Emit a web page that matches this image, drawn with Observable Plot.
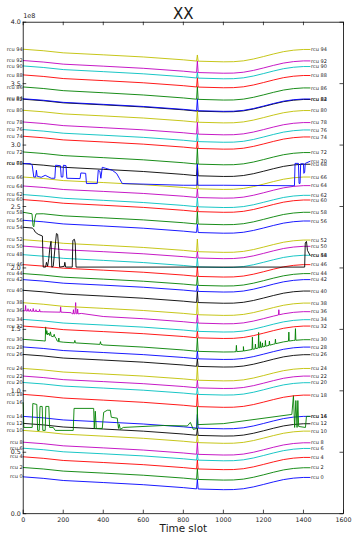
<!DOCTYPE html>
<html><head><meta charset="utf-8">
<script src="https://cdn.jsdelivr.net/npm/d3@7"></script>
<script src="https://cdn.jsdelivr.net/npm/@observablehq/plot@0.6"></script>
<style>body{margin:0;background:#fff} svg text{fill:#1a1a1a}</style>
</head><body><div id="chart"></div>
<script>
// ---- data (values in units of 1e8) ----
const rcuIds = [0,2,4,6,8,10,12,14,16,18,20,22,24,26,28,30,32,34,36,38,40,42,44,46,48,50,52,54,56,58,60,62,64,66,68,70,72,74,76,78,80,82,84,86,88,90,92,94];
const startValues = [0.300,0.376,0.463,0.533,0.582,0.678,0.735,0.792,0.903,0.971,1.068,1.120,1.182,1.296,1.357,1.419,1.527,1.581,1.652,1.717,1.818,1.905,1.954,2.027,2.108,2.178,2.230,2.331,2.388,2.453,2.556,2.597,2.667,2.740,2.849,2.849,2.944,3.072,3.126,3.188,3.283,3.373,3.377,3.473,3.571,3.644,3.688,3.780];
const endValues = [0.295,0.374,0.458,0.531,0.577,0.672,0.732,0.792,0.792,0.965,1.066,1.120,1.182,1.294,1.356,1.416,1.527,1.579,1.644,1.714,1.812,1.905,1.954,2.027,2.103,2.176,2.227,2.103,2.382,2.453,2.553,2.591,2.670,2.740,2.844,2.868,2.939,3.066,3.123,3.183,3.281,3.371,3.375,3.465,3.566,3.639,3.685,3.778];
// common slow drift seen on every regular trace (depth below the start/end level)
const driftTimes = [0,100,200,400,600,800,866,874,1000,1050,1100,1150,1200,1250,1300,1350,1400,1433];
const driftDepth = [0,0.012,0.029,0.045,0.062,0.085,0.095,0.096,0.101,0.100,0.093,0.078,0.058,0.037,0.018,0.006,0,0];
const glitchTime = 870;

// irregular traces
const rcu70Points = [[0,2.849],[36,2.849],[45,2.836],[53,2.740],[62,2.740],[66,2.795],[70,2.746],[90,2.738],[110,2.754],[140,2.730],[158,2.730],[162,2.836],[186,2.832],[190,2.740],[198,2.740],[201,2.836],[214,2.832],[218,2.730],[284,2.727],[288,2.773],[312,2.770],[316,2.687],[370,2.687],[375,2.795],[383,2.787],[388,2.730],[395,2.819],[412,2.811],[445,2.795],[467,2.768],[480,2.730],[495,2.687],[800,2.673],[868,2.673],[870,2.846],[872,2.673],[1000,2.673],[1355,2.669],[1358,2.851],[1375,2.851],[1378,2.688],[1383,2.688],[1386,2.848],[1400,2.848],[1402,2.770],[1406,2.779],[1409,2.851],[1433,2.868]];
const rcu54Points = [[0,2.331],[45,2.325],[53,2.314],[60,2.292],[75,2.274],[96,2.260],[100,2.007],[112,2.007],[116,2.046],[122,2.014],[128,2.078],[133,2.160],[139,2.217],[143,2.007],[150,2.013],[160,2.184],[166,2.280],[172,2.274],[178,2.143],[182,2.007],[205,2.013],[208,2.046],[212,2.007],[245,2.007],[248,2.225],[256,2.233],[260,2.200],[264,2.007],[1406,2.007],[1409,2.203],[1415,2.216],[1420,2.143],[1433,2.103]];
const rcu16Points = [[0,0.903],[3,0.702],[45,0.702],[48,0.897],[68,0.889],[72,0.678],[80,0.678],[84,0.873],[95,0.873],[98,0.678],[110,0.678],[113,0.873],[128,0.873],[132,0.702],[150,0.702],[160,0.678],[250,0.678],[254,0.857],[352,0.857],[355,0.694],[360,0.834],[365,0.694],[395,0.694],[402,0.825],[420,0.842],[435,0.842],[440,0.785],[470,0.777],[476,0.694],[480,0.727],[485,0.686],[500,0.702],[700,0.718],[820,0.714],[835,0.743],[850,0.686],[868,0.694],[870,0.873],[872,0.725],[1000,0.733],[1342,0.808],[1350,0.961],[1356,0.702],[1362,0.921],[1368,0.702],[1372,0.921],[1376,0.710],[1410,0.702],[1415,0.792],[1433,0.792]];
const rcu58DipPoints = [[44,2.441],[49,2.345],[53,2.335],[58,2.400],[64,2.440]];
const rcu36LeftPoints = [[0,1.652],[10,1.651],[12,1.695],[14,1.650],[22,1.650],[24,1.668],[26,1.649],[34,1.649],[36,1.664],[38,1.648],[48,1.648],[50,1.670],[52,1.647],[62,1.647],[64,1.660],[66,1.646],[80,1.645],[82,1.662],[84,1.644],[100,1.643],[185,1.640],[187,1.684],[189,1.640],[240,1.636],[244,1.627],[249,1.628],[251,1.660],[253,1.627],[259,1.627],[262,1.718],[265,1.627],[270,1.628],[272,1.665],[274,1.626],[290,1.630]];
const rcu30LeftPoints = [[0,1.419],[100,1.407],[110,1.405],[112,1.520],[115,1.460],[118,1.490],[122,1.455],[128,1.470],[132,1.450],[136,1.480],[140,1.445],[150,1.440],[155,1.460],[158,1.440],[165,1.425],[170,1.405],[176,1.400],[178,1.430],[180,1.400],[200,1.396],[255,1.390],[258,1.410],[261,1.390],[383,1.378],[386,1.400],[389,1.378]];
const rcu30RightSpikes = [[1065,1.370],[1100,1.360],[1145,1.437],[1160,1.380],[1176,1.475],[1185,1.400],[1195,1.390],[1210,1.410],[1230,1.405],[1260,1.420],[1327,1.478],[1360,1.506]];
const rcu36RightSpikes = [[1277,1.660]];

const xTickValues = [0,200,400,600,800,1000,1200,1400,1600];
const yTickValues = [0,0.5,1.0,1.5,2.0,2.5,3.0,3.5,4.0];
const lineColors = ["#0000ff","#008000","#ff0000","#00bfbf","#bf00bf","#bfbf00","#000000"];

// ---- build series ----
const lastT = driftTimes[driftTimes.length-1];
function driftAt(t){
  for (let k=1;k<driftTimes.length;k++){
    if (t<=driftTimes[k]){const t0=driftTimes[k-1],t1=driftTimes[k];const f=(t-t0)/(t1-t0);return driftDepth[k-1]+(driftDepth[k]-driftDepth[k-1])*f;}
  }
  return driftDepth[driftDepth.length-1];
}
function base(i,t){return startValues[i]+(endValues[i]-startValues[i])*t/lastT-driftAt(t);}
const explicitSeries = {16: rcu16Points, 54: rcu54Points, 70: rcu70Points};
const wildSegments = {30: rcu30LeftPoints, 36: rcu36LeftPoints, 58: rcu58DipPoints};
const spikeLists = {30: rcu30RightSpikes, 36: rcu36RightSpikes};
function seriesFor(i){
  const id = rcuIds[i];
  if (explicitSeries[id]) return explicitSeries[id].map(([t,v])=>({t,v}));
  let pts = driftTimes.map(t=>[t, base(i,t)]);
  if (id !== 54){
    let top;
    if (i === rcuIds.length-1) top = base(i,glitchTime)+0.05;
    else { const j = id===68 ? i+2 : i+1; top = startValues[j]-driftAt(glitchTime); }
    pts.push([glitchTime, top]);
  }
  const seg = wildSegments[id];
  if (seg){const a=seg[0][0], b=seg[seg.length-1][0]; pts = pts.filter(([t])=>t<a||t>b).concat(seg);}
  const sp = spikeLists[id];
  if (sp) for (const [t,p] of sp) pts.push([t-2,base(i,t-2)],[t,p],[t+2,base(i,t+2)]);
  pts.sort((a,b)=>a[0]-b[0]);
  return pts.map(([t,v])=>({t,v}));
}

const W=353, H=534, mT=21.7, mB=20.8, mL=22.7, mR=10;
const innerW=W-mL-mR, innerH=H-mT-mB;
const labelRows = rcuIds.map((id,i)=>({name:`rcu ${id}`, s:startValues[i], e:endValues[i]}));

const marks = [];
rcuIds.forEach((id,i)=>{
  marks.push(Plot.line(seriesFor(i), {x:"t", y:"v", stroke: lineColors[i%7], strokeWidth: 0.9}));
});
marks.push(
  Plot.text(labelRows, {x: ()=>0, y:"s", text:"name", textAnchor:"end", dx:-0.5, fontSize:5, fill:"#222"}),
  Plot.text(labelRows, {x: ()=>lastT, y:"e", text:"name", textAnchor:"start", dx:1, fontSize:5, fill:"#222"}),
  Plot.tickX(xTickValues, {x:d=>d, insetTop: innerH-3.5, stroke:"#000", strokeWidth:0.7}),
  Plot.tickX(xTickValues, {x:d=>d, insetBottom: innerH-3.5, stroke:"#000", strokeWidth:0.7}),
  Plot.tickY(yTickValues, {y:d=>d, insetRight: innerW-3.5, stroke:"#000", strokeWidth:0.7}),
  Plot.tickY(yTickValues, {y:d=>d, insetLeft: innerW-3.5, stroke:"#000", strokeWidth:0.7}),
  Plot.frame({stroke:"#000", strokeWidth:0.8}),
  Plot.text(["XX"], {text:d=>d, frameAnchor:"top", lineAnchor:"bottom", dy:-3.4, fontSize:15, fill:"#000"}),
  Plot.text(["1e8"], {text:d=>d, frameAnchor:"top-left", textAnchor:"start", lineAnchor:"bottom", dy:-4, fontSize:6.5, fill:"#222"}),
  Plot.text(["Time slot"], {text:d=>d, frameAnchor:"bottom", lineAnchor:"bottom", dy:18.3, fontSize:10.4, fill:"#000"})
);

const chart = Plot.plot({
  width: W, height: H,
  marginTop: mT, marginBottom: mB, marginLeft: mL, marginRight: mR,
  style: {fontFamily: "DejaVu Sans", fontSize: "6.3px", background: "#fff", color: "#111"},
  x: {domain:[0,1600], ticks: xTickValues, tickSize:0, tickPadding:3.5, tickFormat: d3.format("d"), label:null},
  y: {domain:[0,4], ticks: yTickValues, tickSize:0, tickPadding:2.5, tickFormat: d3.format(".1f"), label:null},
  marks
});
document.getElementById("chart").appendChild(chart);
</script>
</body></html>
